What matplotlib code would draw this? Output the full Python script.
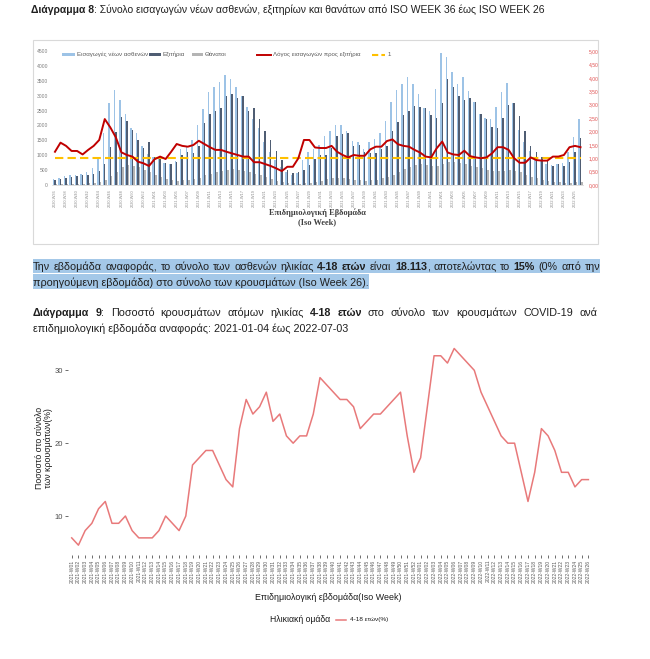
import unicodedata
import numpy as np
import matplotlib
matplotlib.use("Agg")
import matplotlib.pyplot as plt
from matplotlib.patches import Rectangle
from matplotlib.lines import Line2D

W, H = 650, 659

# --- Διάγραμμα 8: εβδομάδες 2020-W36 ... 2022-W26 ---
weeks8 = ([f"2020-W{w:02d}" for w in range(36, 54)]
          + [f"2021-W{w:02d}" for w in range(1, 53)]
          + [f"2022-W{w:02d}" for w in range(1, 27)])
admissions = [200, 250, 300, 320, 350, 380, 420, 580, 900, 1750,
              2750, 3200, 2870, 2400, 1900, 1750, 1300, 1050, 950, 900,
              750, 700, 800, 1200, 1300, 1520, 2000, 2550, 3120, 3280,
              3460, 3700, 3570, 3280, 3000, 2630, 2200, 1900, 1430, 1100,
              850, 600, 450, 350, 400, 850, 1100, 1200, 1330, 1630,
              1830, 2030, 2000, 1800, 1480, 1450, 1200, 1430, 1550, 1750,
              2150, 2800, 3200, 3400, 3620, 3400, 3050, 2600, 2500, 3220,
              4430, 4300, 3800, 3380, 3620, 3150, 2800, 2400, 2240, 2200,
              2620, 3130, 3430, 2750, 1850, 1430, 1150, 900, 850, 700,
              680, 700, 750, 1100, 1600, 2200]
discharges = [180, 200, 250, 280, 300, 320, 330, 380, 470, 720,
              1290, 1780, 2270, 2160, 1850, 1500, 1250, 1430, 950, 900,
              750, 720, 780, 1000, 1100, 1080, 1300, 2090, 2400, 2480,
              2600, 2980, 3040, 2920, 3000, 2470, 2600, 2200, 1820, 1500,
              1130, 850, 500, 400, 420, 500, 680, 860, 1000, 1000,
              1250, 1640, 1700, 1750, 1320, 1330, 1100, 1075, 1080, 1220,
              1320, 1800, 2130, 2350, 2500, 2650, 2620, 2580, 2350, 2250,
              2750, 3560, 3300, 2980, 2850, 2920, 2800, 2380, 2230, 1940,
              1900, 2250, 2680, 2750, 2320, 1820, 1300, 1100, 950, 800,
              650, 700, 650, 770, 1100, 1580]
deaths = [20, 25, 30, 35, 40, 50, 60, 80, 110, 180,
          300, 420, 600, 680, 650, 600, 520, 420, 330, 260,
          200, 170, 150, 160, 180, 200, 250, 320, 380, 450,
          480, 520, 540, 520, 480, 430, 380, 320, 260, 200,
          150, 110, 80, 60, 50, 60, 80, 110, 150, 190,
          220, 230, 220, 200, 180, 160, 150, 160, 180, 220,
          280, 350, 450, 550, 620, 680, 700, 680, 650, 640,
          700, 760, 780, 740, 700, 650, 600, 560, 520, 480,
          460, 480, 500, 480, 420, 350, 280, 220, 170, 130,
          100, 90, 80, 80, 90, 110]
ratio = [1.24, 1.58, 1.46, 1.27, 1.27, 1.14, 1.31, 1.46, 1.68, 2.46,
         2.15, 1.78, 1.22, 1.12, 1.06, 0.87, 0.81, 0.71, 0.96, 1.06,
         0.97, 1.24, 1.53, 1.46, 1.43, 1.49, 1.65, 1.53, 1.41, 1.31,
         1.31, 1.24, 1.18, 1.12, 1.06, 1.06, 0.85, 0.85, 0.78, 0.71,
         0.62, 0.52, 0.68, 0.68, 1.00, 1.68, 1.68, 1.40, 1.38, 1.38,
         1.46, 1.24, 1.12, 1.03, 1.12, 1.09, 1.09, 1.33, 1.43, 1.43,
         1.64, 1.70, 1.52, 1.46, 1.43, 1.31, 1.21, 1.06, 1.03, 1.37,
         1.62, 1.21, 1.14, 1.12, 1.28, 1.08, 1.03, 1.00, 1.03, 1.18,
         1.41, 1.41, 1.31, 1.00, 0.83, 0.83, 1.03, 0.93, 0.91, 0.91,
         1.06, 1.06, 1.12, 1.41, 1.46, 1.41]
ref_level = 1.0
left_ticks = list(range(0, 4501, 500))
right_ticks = [0, 0.5, 1, 1.5, 2, 2.5, 3, 3.5, 4, 4.5, 5]

# --- Διάγραμμα 9: 2021-W01 ... 2022-W26 ---
weeks9 = [f"2021-W{w:02d}" for w in range(1, 53)] + [f"2022-W{w:02d}" for w in range(1, 27)]
pct_4_18 = [7, 6, 8, 9, 11, 12, 9, 9, 10, 8,
            7, 7, 7, 8, 10, 9, 8, 10, 17, 18,
            19, 19, 17, 15, 14, 22, 26, 24, 25, 27,
            23, 24, 21, 20, 21, 21, 24, 29, 28, 27,
            26, 26, 25, 22, 23, 24, 24, 25, 26, 27,
            21, 16, 18, 25, 32, 32, 31, 33, 32, 31,
            30, 27, 25, 23, 21, 20, 20, 16, 12, 16,
            22, 21, 19, 16, 16, 14, 15, 15]

# --- κείμενα σελίδας ---
title8 = "**Διάγραμμα 8**: Σύνολο εισαγωγών νέων ασθενών, εξιτηρίων και θανάτων από ISO WEEK 36 έως ISO WEEK 26"
para1 = "Την εβδομάδα αναφοράς, το σύνολο των ασθενών ηλικίας **4-18 ετών** είναι **18.113**, αποτελώντας το **15%** (0% από την"
para2 = "προηγούμενη εβδομάδα) στο σύνολο των κρουσμάτων (Iso Week 26)."
title9a = "**Διάγραμμα 9**: Ποσοστό κρουσμάτων ατόμων ηλικίας **4-18 ετών** στο σύνολο των κρουσμάτων COVID-19 ανά"
title9b = "επιδημιολογική εβδομάδα αναφοράς: 2021-01-04 έως 2022-07-03"

BODY = "Liberation Sans"
SANS = "Liberation Sans"
SERIF = "Liberation Serif"

fig = plt.figure(figsize=(W / 100, H / 100), dpi=100)
fig.patch.set_facecolor("white")
rend = fig.canvas.get_renderer()


def px(x, y):
    return x / W, 1 - y / H


def tokens(s):
    # [κείμενο, έντονο, κολλημένο στο προηγούμενο κομμάτι της ίδιας λέξης]
    s = unicodedata.normalize("NFC", s)
    out, bold = [], False
    for raw in s.split(" "):
        n_in_word = 0
        for j, part in enumerate(raw.split("**")):
            if j > 0:
                bold = not bold
            if part:
                out.append([part, bold, n_in_word > 0])
                n_in_word += 1
    return out


def width(txt, size, bold, family):
    t = fig.text(0, 0, txt, fontsize=size, family=family, fontweight="bold" if bold else "normal")
    w = t.get_window_extent(rend).width
    t.remove()
    return w


def space_w(size, family):
    return width("x x", size, False, family) - width("xx", size, False, family)


def runs(s, justify):
    merged = []
    for txt, b, glued in tokens(s):
        if merged and merged[-1][1] == b and (glued or not justify):
            merged[-1][0] += ("" if glued else " ") + txt
        else:
            merged.append([txt, b, glued])
    return merged


def rich_line(s, x0, y, size, x1=None, family=BODY, color="#1f1f1f", draw=True):
    pieces = runs(s, x1 is not None)
    ws = [width(p[0], size, p[1], family) for p in pieces]
    n_gaps = sum(1 for p in pieces[1:] if not p[2])
    gap = space_w(size, family)
    if x1 is not None and n_gaps:
        gap = (x1 - x0 - sum(ws)) / n_gaps
    x = x0
    for i, ((txt, b, glued), w) in enumerate(zip(pieces, ws)):
        if i > 0 and not glued:
            x += gap
        if draw:
            fig.text(*px(x, y), txt, fontsize=size, family=family, color=color,
                     fontweight="bold" if b else "normal", va="baseline", ha="left")
        x += w
    return x


def fit_size(s, target, family=BODY, base=10):
    end = rich_line(s, 0, 0, base, family=family, draw=False)
    return base * target / end


sz_body = fit_size(para2, 336)
sz_title = fit_size(title8, 517)

# μπλε επισήμανση παραγράφου
hl = "#a4c8e8"
fig.patches.append(Rectangle(px(33, 273), (600 - 33) / W, 14 / H, transform=fig.transFigure,
                             fc=hl, ec="none", zorder=0))
fig.patches.append(Rectangle(px(33, 288.5), (369 - 33) / W, 14.5 / H, transform=fig.transFigure,
                             fc=hl, ec="none", zorder=0))

rich_line(title8, 31, 13, sz_title)
rich_line(para1, 33, 270, sz_body, x1=600)
rich_line(para2, 33, 285.5, sz_body)
rich_line(title9a, 33, 316.5, sz_body, x1=597)
rich_line(title9b, 33, 332, sz_body)

# --- πλαίσιο διαγράμματος 8 ---
fig.patches.append(Rectangle(px(33, 244), (598 - 33) / W, (244 - 40) / H, transform=fig.transFigure,
                             fill=False, ec="#d9d9d9", lw=0.8))

# --- Διάγραμμα 8 ---
ax1 = fig.add_axes([52.2 / W, 1 - 185 / H, 531.1 / W, 134 / H])
x8 = np.arange(len(weeks8))
bw = 0.26
ax1.bar(x8 - bw, admissions, bw, color="#9dc3e6", zorder=2)
ax1.bar(x8, discharges, bw, color="#4f5d73", zorder=2)
ax1.bar(x8 + bw, deaths, bw, color="#b4b4b4", zorder=2)
ax1.set_xlim(-0.5, len(weeks8) - 0.5)
ax1.set_ylim(left_ticks[0], left_ticks[-1])
ax1.set_yticks(left_ticks)
ax1.set_yticklabels([str(v) for v in left_ticks], fontsize=3.6, color="#7f7f7f", family=SANS)
ax1.set_xticks(x8[::2])
ax1.set_xticklabels(weeks8[::2], rotation=90, fontsize=2.8, color="#8c8c8c", family=SANS)
ax1.tick_params(length=0, pad=3)
for sp in ax1.spines.values():
    sp.set_visible(False)
ax1.spines["bottom"].set_visible(True)
ax1.spines["bottom"].set_color("#d9d9d9")
ax1.spines["bottom"].set_linewidth(0.6)

ax1r = ax1.twinx()
ax1r.plot([x8[0], x8[-1]], [ref_level, ref_level], color="#ffc000", lw=1.5, dashes=(4, 2), zorder=3)
ax1r.plot(x8, ratio, color="#c00000", lw=1.4, zorder=4)
ax1r.set_ylim(right_ticks[0], right_ticks[-1])
ax1r.set_yticks(right_ticks)
ax1r.set_yticklabels([f"{v:.2f}".replace(".", ",") for v in right_ticks],
                     fontsize=3.6, color="#e05050", family=SANS)
ax1r.tick_params(length=0, pad=4)
for sp in ax1r.spines.values():
    sp.set_visible(False)

# υπόμνημα διαγράμματος 8
leg_y = 54.5
lg = dict(fontsize=4.4, color="#595959", family=SANS, va="center", ha="left")
for (xa, xb, col), (tx, label) in zip(
        [(62, 75, "#9dc3e6"), (149, 161, "#4f5d73"), (192, 203, "#b4b4b4")],
        [(77, "Εισαγωγές νέων ασθενών"), (163, "Εξιτήρια"), (205, "Θάνατοι")]):
    fig.patches.append(Rectangle(px(xa, leg_y + 1.8), (xb - xa) / W, 3.6 / H,
                                 transform=fig.transFigure, fc=col, ec="none"))
    fig.text(*px(tx, leg_y), label, **lg)
fig.lines.append(Line2D([257 / W, 271 / W], [1 - leg_y / H] * 2, transform=fig.transFigure,
                        color="#c00000", lw=1.4))
fig.text(*px(273, leg_y), "Λόγος εισαγωγών προς εξιτήρια", **lg)
fig.lines.append(Line2D([372 / W, 385 / W], [1 - leg_y / H] * 2, transform=fig.transFigure,
                        color="#ffc000", lw=1.5, dashes=(3, 1.5)))
fig.text(*px(388, leg_y), "1", **lg)

fig.text(*px(317, 213), "Επιδημιολογική Εβδομάδα", fontsize=6, family=SERIF, fontweight="bold",
         color="#404040", ha="center", va="center")
fig.text(*px(317, 222.5), "(Iso Week)", fontsize=6, family=SERIF, fontweight="bold",
         color="#404040", ha="center", va="center")

# --- Διάγραμμα 9 ---
ax2 = fig.add_axes([67.7 / W, 1 - 555 / H, 524.7 / W, 216.5 / H])
x9 = np.arange(len(weeks9))
ax2.plot(x9, pct_4_18, color="#e8797a", lw=1.1)
ax2.set_xlim(-0.6, len(weeks9) - 1 + 0.6)
ax2.set_ylim(4.65, 34.37)
ax2.set_yticks([10, 20, 30])
ax2.set_yticklabels(["10", "20", "30"], fontsize=5.5, color="#4d4d4d", family=SANS)
ax2.set_xticks(x9)
ax2.set_xticklabels(weeks9, rotation=90, fontsize=3.6, color="#595959", family=SANS)
ax2.tick_params(length=2, width=0.5, color="#333333", pad=1.5)
for sp in ax2.spines.values():
    sp.set_visible(False)

fig.text(*px(44, 448), "Ποσοστό στο σύνολο\nτων κρουσμάτων(%)", rotation=90, fontsize=6.3,
         family=SANS, color="#1a1a1a", ha="center", va="center", linespacing=1.0)
fig.text(*px(328, 597), "Επιδημιολογική εβδομάδα(Iso Week)", fontsize=6.4, family=SANS,
         color="#1a1a1a", ha="center", va="center")
fig.text(*px(270, 620), "Ηλικιακή ομάδα", fontsize=6.2, family=SANS, color="#1a1a1a",
         ha="left", va="center")
fig.lines.append(Line2D([336 / W, 346 / W], [1 - 620 / H] * 2, transform=fig.transFigure,
                        color="#e8797a", lw=1.1))
fig.text(*px(350, 620), "4-18 ετών(%)", fontsize=4.6, family=SANS,
         color="#1a1a1a", ha="left", va="center")

fig.savefig("out.png", dpi=100, facecolor="white")
